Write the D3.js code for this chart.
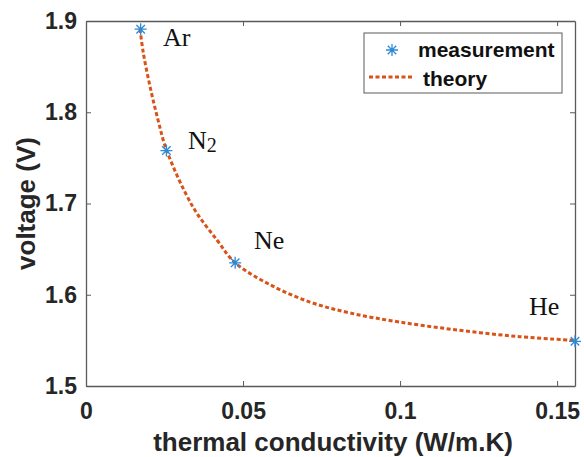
<!DOCTYPE html>
<html>
<head>
<meta charset="utf-8">
<script src="https://d3js.org/d3.v7.min.js"></script>
<style>
  body { margin: 0; background: #fff; }
</style>
</head>
<body>
<svg id="chart" width="584" height="457"></svg>
<script>
// measured points (gas, thermal conductivity, voltage)
var gases = ["Ar", "N2", "Ne", "He"];
var measK = [0.0174, 0.0256, 0.0475, 0.1557];
var measV = [1.891, 1.758, 1.635, 1.549];

// theory curve
var theoryK = [0.0172, 0.01825, 0.0204, 0.0229, 0.0257, 0.0341, 0.0417, 0.0475, 0.0586, 0.0713, 0.0841, 0.1000, 0.1191, 0.1382, 0.1557];
var theoryV = [1.891, 1.865, 1.828, 1.792, 1.758, 1.696, 1.660, 1.635, 1.611, 1.592, 1.580, 1.570, 1.561, 1.554, 1.550];

var xTicks = [0, 0.05, 0.1, 0.15];
var yTicks = [1.5, 1.6, 1.7, 1.8, 1.9];

var svg = d3.select("#chart"),
    margin = {top: 21, right: 9, bottom: 71, left: 86},
    width = +svg.attr("width") - margin.left - margin.right,
    height = +svg.attr("height") - margin.top - margin.bottom,
    g = svg.append("g").attr("transform", "translate(" + margin.left + "," + margin.top + ")");

var x = d3.scaleLinear().domain([0, 0.1557]).range([0, width]);
var y = d3.scaleLinear().domain([1.5, 1.9]).range([height, 0]);

var axisColor = "#5a5a5a",
    textColor = "#262626",
    blue = "#2b8ad6",
    orange = "#d95319",
    sans = "'Liberation Sans', Arial, sans-serif";

// box + inward ticks on all four sides
function styleAxis(sel) {
  sel.select(".domain").attr("stroke", axisColor).attr("stroke-width", 1.3);
  sel.selectAll(".tick line").attr("stroke", axisColor).attr("stroke-width", 1);
  sel.selectAll(".tick text")
    .attr("fill", textColor)
    .style("font", "bold 23px " + sans);
}

g.append("g")
    .attr("transform", "translate(0," + height + ")")
    .call(d3.axisBottom(x).tickValues(xTicks).tickFormat(d3.format("")).tickSizeInner(-5).tickSizeOuter(0).tickPadding(17))
    .call(styleAxis);

g.append("g")
    .call(d3.axisTop(x).tickValues(xTicks).tickFormat("").tickSizeInner(-5).tickSizeOuter(0))
    .call(styleAxis);

g.append("g")
    .call(d3.axisLeft(y).tickValues(yTicks).tickFormat(d3.format(".1f")).tickSizeInner(-5).tickSizeOuter(0).tickPadding(9))
    .call(styleAxis);

g.append("g")
    .attr("transform", "translate(" + width + ",0)")
    .call(d3.axisRight(y).tickValues(yTicks).tickFormat("").tickSizeInner(-5).tickSizeOuter(0))
    .call(styleAxis);

// theory line
var theory = theoryK.map(function(k, i) { return {k: k, v: theoryV[i]}; });
var line = d3.line()
    .x(function(d) { return x(d.k); })
    .y(function(d) { return y(d.v); })
    .curve(d3.curveCatmullRom.alpha(0.5));

g.append("path")
    .datum(theory)
    .attr("fill", "none")
    .attr("stroke", orange)
    .attr("stroke-width", 3)
    .attr("stroke-dasharray", "4,2.5")
    .attr("d", line);

// asterisk marker
function star(sel, r) {
  var a = r * 0.707;
  var d = "M" + (-r) + ",0L" + r + ",0M0," + (-r) + "L0," + r +
          "M" + (-a) + "," + (-a) + "L" + a + "," + a +
          "M" + (-a) + "," + a + "L" + a + "," + (-a);
  sel.append("path").attr("d", d).attr("stroke", blue).attr("stroke-width", 1.3).attr("fill", "none");
}

measK.forEach(function(k, i) {
  var m = g.append("g").attr("transform", "translate(" + x(k) + "," + y(measV[i]) + ")");
  star(m, 6);
});

// gas labels
var labelFont = "26px 'Liberation Serif', 'Times New Roman', serif";
var labelPos = [[77, 25], [102, 128], [168, 228], [443, 294]];
gases.forEach(function(name, i) {
  var t = g.append("text")
      .attr("x", labelPos[i][0])
      .attr("y", labelPos[i][1])
      .style("font", labelFont)
      .attr("fill", "#111");
  if (name === "N2") {
    t.append("tspan").text("N");
    t.append("tspan").attr("dy", 3).style("font-size", "20px").text("2");
  } else {
    t.text(name);
  }
});

// axis titles
g.append("text")
    .attr("x", 333 - margin.left)
    .attr("y", height + 65)
    .attr("text-anchor", "middle")
    .style("font", "bold 26px " + sans)
    .attr("fill", textColor)
    .text("thermal conductivity (W/m.K)");

g.append("text")
    .attr("transform", "translate(" + (-51) + "," + (height / 2) + ") rotate(-90)")
    .attr("text-anchor", "middle")
    .style("font", "bold 26px " + sans)
    .attr("fill", textColor)
    .text("voltage (V)");

// legend
var lg = svg.append("g").attr("transform", "translate(364,33)");
lg.append("rect")
    .attr("width", 198).attr("height", 60)
    .attr("fill", "#fff").attr("stroke", axisColor).attr("stroke-width", 1);
star(lg.append("g").attr("transform", "translate(28,17)"), 6);
lg.append("text").attr("x", 54).attr("y", 24)
    .style("font", "bold 21px " + sans)
    .attr("fill", "#111").text("measurement");
lg.append("line")
    .attr("x1", 5).attr("x2", 50).attr("y1", 44).attr("y2", 44)
    .attr("stroke", orange).attr("stroke-width", 3).attr("stroke-dasharray", "4,2.5");
lg.append("text").attr("x", 59).attr("y", 53)
    .style("font", "bold 21px " + sans)
    .attr("fill", "#111").text("theory");
</script>
</body>
</html>
